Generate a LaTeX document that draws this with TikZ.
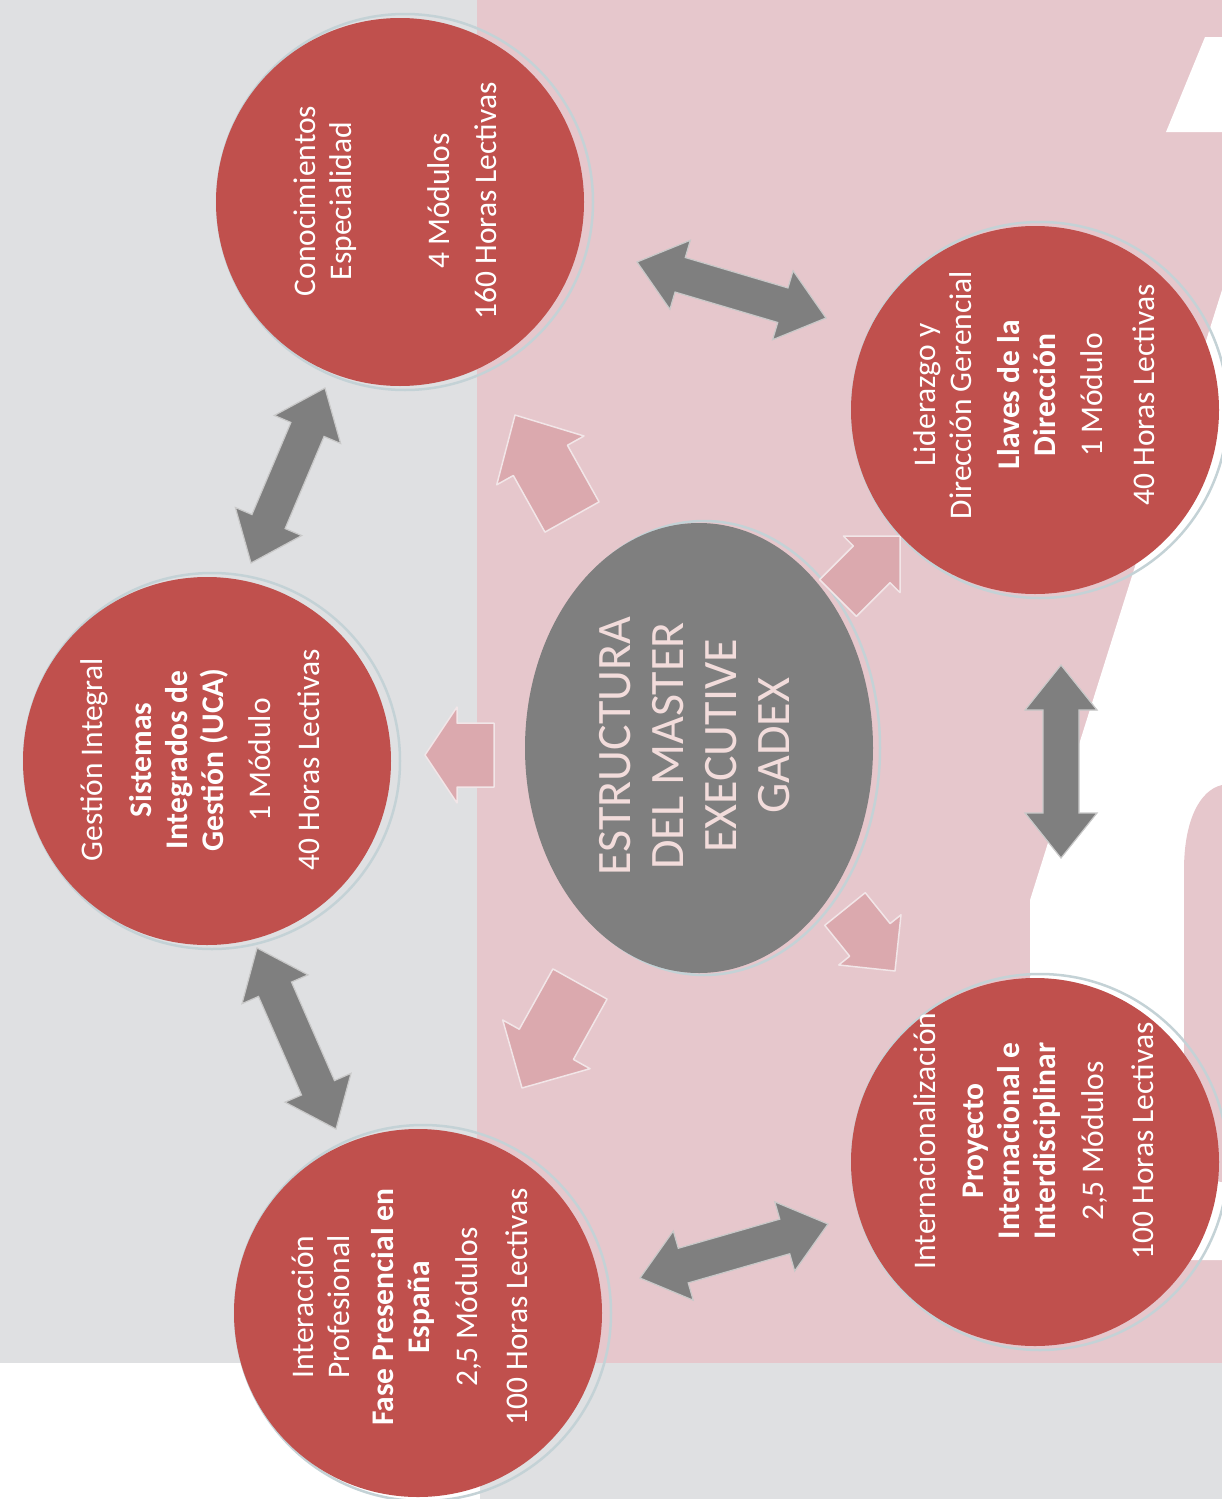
\documentclass[tikz,border=0pt]{standalone}
\usepackage{fontspec}
\setmainfont{Carlito}
\usetikzlibrary{calc,shapes.geometric}
\definecolor{bggray}{HTML}{DFE0E2}
\definecolor{bgpink}{HTML}{E6C7CC}
\definecolor{redc}{HTML}{C0504D}
\definecolor{ellc}{HTML}{7F7F7F}
\definecolor{ringc}{HTML}{C4D2D6}
\definecolor{parrow}{HTML}{DBA9AE}
\definecolor{parrowb}{HTML}{F2E6E8}
\definecolor{garrow}{HTML}{7F7F7F}
\definecolor{garrowb}{HTML}{C9C9C9}
\definecolor{ctext}{HTML}{F2DCDB}
\tikzset{
  module/.style={circle, fill=redc, minimum size=368pt, inner sep=0pt},
  ringline/.style={draw=ringc, line width=2.5pt},
  modtext/.style={rotate=90, align=center, text=white, font=\fontsize{31.5}{36}\selectfont},
  centertext/.style={rotate=90, align=center, text=ctext, font=\fontsize{48}{53}\selectfont},
  pinkarrow/.style={fill=parrow, draw=parrowb, line width=1.5pt, line join=round},
  grayarrow/.style={fill=garrow, draw=garrowb, line width=1.2pt, line join=miter}
}
% single block arrow: base, tip, head length, half head width, half shaft width
\newcommand{\blockarrow}[5]{%
  \path[pinkarrow] ($(#1)!#5!90:(#2)$) -- ($(#2)!#3!(#1)!#5!-90:(#1)$)
    -- ($(#2)!#3!(#1)!#4!-90:(#1)$) -- (#2)
    -- ($(#2)!#3!(#1)!#4!90:(#1)$) -- ($(#2)!#3!(#1)!#5!90:(#1)$)
    -- ($(#1)!#5!-90:(#2)$) -- cycle;}
% double arrow between two named coordinates
\newcommand{\twowayarrow}[2]{%
  \path[grayarrow] (#1) -- ($(#1)!45pt!(#2)!36pt!90:(#2)$)
    -- ($(#1)!45pt!(#2)!18pt!90:(#2)$) -- ($(#2)!45pt!(#1)!18pt!-90:(#1)$)
    -- ($(#2)!45pt!(#1)!36pt!-90:(#1)$) -- (#2)
    -- ($(#2)!45pt!(#1)!36pt!90:(#1)$) -- ($(#2)!45pt!(#1)!18pt!90:(#1)$)
    -- ($(#1)!45pt!(#2)!18pt!-90:(#2)$) -- ($(#1)!45pt!(#2)!36pt!-90:(#2)$)
    -- cycle;}
\begin{document}
\begin{tikzpicture}[x=1pt,y=-1pt]
\useasboundingbox (0,0) rectangle (1222,1499);
% background
\fill[bggray] (0,0) rectangle (477,1363);
\fill[bgpink] (477,0) rectangle (1222,1363);
\fill[white] (0,1363) rectangle (480,1499);
\fill[bggray] (480,1363) rectangle (1222,1499);
% decorative white letter shapes
\fill[white] (1205,37) -- (1222,37) -- (1222,132) -- (1166,132) -- cycle;
\fill[white] (1222,290) -- (1030,900) -- (1030,1260) -- (1222,1260) -- cycle;
\fill[bgpink] (1222,785) .. controls (1200,790) and (1184,820) .. (1184,870)
  -- (1184,1150) .. controls (1190,1170) and (1205,1180) .. (1222,1182) -- cycle;

% circle centres
\coordinate (p1) at (400,202);
\coordinate (p2) at (207,761);
\coordinate (p3) at (418,1313);
\coordinate (p4) at (1035,410);
\coordinate (p5) at (1035,1162);
\coordinate (p0) at (699,748);

% rings
\foreach \p in {p1,p2,p3,p4,p5}{
  \draw[ringline] ([xshift=5pt]\p) circle (188pt);
}
\draw[ringline] ([xshift=5pt]p0) ellipse (176pt and 227pt);

% pink radial arrows
\coordinate (b1) at (572,517); \coordinate (e1) at (515,415);
\coordinate (b2) at (494,755); \coordinate (e2) at (425,755);
\coordinate (b3) at (580,984); \coordinate (e3) at (522,1088);
\coordinate (b4) at (838,598); \coordinate (e4) at (900,536);
\coordinate (b5) at (845,909); \coordinate (e5) at (895,971);
\blockarrow{b1}{e1}{52pt}{50pt}{31pt}
\blockarrow{b2}{e2}{32pt}{48pt}{32pt}
\blockarrow{b3}{e3}{50pt}{50pt}{31pt}
\blockarrow{b4}{e4}{40pt}{40pt}{26pt}
\blockarrow{b5}{e5}{40pt}{40pt}{26pt}

% gray two-way arrows
\coordinate (a1s) at (637,262); \coordinate (a1e) at (826,318);
\coordinate (a2s) at (325,388); \coordinate (a2e) at (251,563);
\coordinate (a3s) at (257,948); \coordinate (a3e) at (336,1129);
\coordinate (a4s) at (640,1278); \coordinate (a4e) at (828,1224);
\coordinate (a5s) at (1061,665); \coordinate (a5e) at (1061,858);
\twowayarrow{a1s}{a1e}
\twowayarrow{a2s}{a2e}
\twowayarrow{a3s}{a3e}
\twowayarrow{a4s}{a4e}
\twowayarrow{a5s}{a5e}

% circles
\node[module] (c1) at (p1) {};
\node[module] (c2) at (p2) {};
\node[module] (c3) at (p3) {};
\node[module] (c4) at (p4) {};
\node[module] (c5) at (p5) {};
\node[ellipse, fill=ellc, minimum width=348pt, minimum height=450pt, inner sep=0pt] (c0) at (p0) {};

% texts
\node[modtext] (t1) at (395,201) {Conocimientos\\Especialidad\\[62pt]4 Módulos\\[11pt]160 Horas Lectivas};
\node[modtext] (t2) at (200,760) {Gestión Integral\\[13pt]\bfseries Sistemas\\\bfseries Integrados de\\\bfseries Gestión (UCA)\\[11pt]1 Módulo\\[13pt]40 Horas Lectivas};
\node[modtext] (t3) at (410,1307) {Interacción\\Profesional\\[8pt]\bfseries Fase Presencial en\\\bfseries España\\[12pt]2,5 Módulos\\[14pt]100 Horas Lectivas};
\node[modtext] (t4) at (1034,395) {Liderazgo y\\Dirección Gerencial\\[12pt]\bfseries Llaves de la\\\bfseries Dirección\\[11pt]1 Módulo\\[16pt]40 Horas Lectivas};
\node[modtext] (t5) at (1034,1141) {Internacionalización\\[12pt]\bfseries Proyecto\\\bfseries Internacional e\\\bfseries Interdisciplinar\\[12pt]2,5 Módulos\\[14pt]100 Horas Lectivas};
\node[centertext] (t0) at (695,746) {ESTRUCTURA\\DEL MASTER\\EXECUTIVE\\GADEX};
\end{tikzpicture}
\end{document}
